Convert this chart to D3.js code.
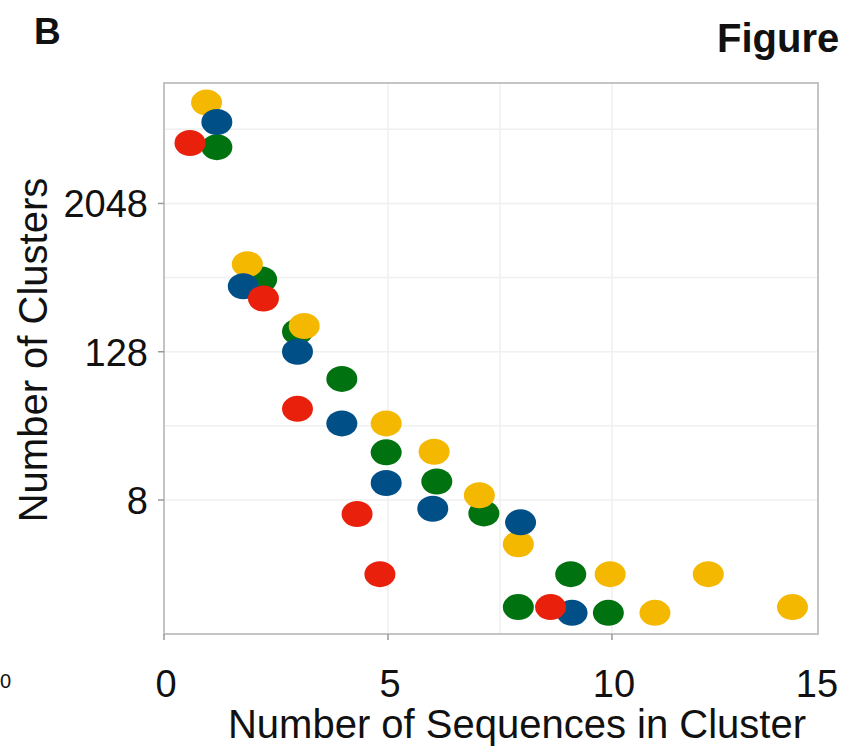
<!DOCTYPE html>
<html>
<head>
<meta charset="utf-8">
<script src="https://cdn.jsdelivr.net/npm/d3@7"></script>
<style>
  html, body { margin: 0; padding: 0; background: #fff; }
  svg { display: block; }
  text { font-family: "Liberation Sans", Arial, Helvetica, sans-serif; fill: #111; }
</style>
</head>
<body>
<svg id="chart" width="842" height="747"></svg>
<script>
// Cluster-size distribution: number of clusters (log2) by sequences per cluster
const xTicks = [0, 5, 10, 15];
const yTicks = [8, 128, 2048];
const yGrid = [8, 32, 128, 512, 2048, 8192];
const xGrid = [5, 7.5, 10];

const yellowX = [0.95, 1.86, 3.13, 4.96, 6.03, 7.04, 7.91, 9.96, 10.96, 12.15, 14.03];
const yellowY = [13500, 658, 207, 33.5, 19.7, 8.75, 3.5, 2, 0.97, 2, 1.08];

const greenX = [1.18, 2.18, 2.98, 3.97, 4.96, 6.09, 7.14, 9.08, 7.91, 9.92];
const greenY = [5870, 494, 186, 77, 19.5, 11.3, 6.23, 2, 1.08, 0.97];

const blueX = [1.18, 1.77, 2.98, 3.97, 4.96, 6.0, 7.96, 9.11];
const blueY = [9400, 436, 128, 33.5, 11, 6.8, 5.27, 0.97];

const redX = [0.58, 2.22, 2.98, 4.31, 4.82, 8.63];
const redY = [6340, 346, 44, 6.16, 2, 1.08];

const series = [
  { name: "green", color: "#00720f", xs: greenX, ys: greenY },
  { name: "yellow", color: "#f5b800", xs: yellowX, ys: yellowY },
  { name: "blue", color: "#004f87", xs: blueX, ys: blueY },
  { name: "red", color: "#e8200c", xs: redX, ys: redY }
];

const plot = { left: 164, right: 818, top: 83, bottom: 634 };

const x = d3.scaleLinear().domain([0, 14.6]).range([plot.left, plot.right]);
const y = d3.scaleLog().base(2).domain([0.653, 19480]).range([plot.bottom, plot.top]);

const svg = d3.select("#chart");

// panel letter and figure heading
svg.append("text").attr("x", 34).attr("y", 44)
  .attr("font-size", 37).attr("font-weight", "bold").text("B");
svg.append("text").attr("x", 717).attr("y", 52)
  .attr("font-size", 40).attr("font-weight", "bold").text("Figure");
// neighbouring panel tick label at the edge
svg.append("text").attr("x", 0).attr("y", 688)
  .attr("font-size", 20).attr("fill", "#333").text("0");

// grid
const grid = svg.append("g");
grid.selectAll("line.h").data(yGrid).join("line")
  .attr("x1", plot.left).attr("x2", plot.right)
  .attr("y1", d => y(d)).attr("y2", d => y(d))
  .attr("stroke", "#f0f0f0").attr("stroke-width", 1.5);
grid.selectAll("line.v").data(xGrid).join("line")
  .attr("y1", plot.top).attr("y2", plot.bottom)
  .attr("x1", d => x(d)).attr("x2", d => x(d))
  .attr("stroke", "#f0f0f0").attr("stroke-width", 1.5);

// frame
svg.append("rect")
  .attr("x", plot.left).attr("y", plot.top)
  .attr("width", plot.right - plot.left).attr("height", plot.bottom - plot.top)
  .attr("fill", "none").attr("stroke", "#c4c4c4").attr("stroke-width", 2);

// y axis ticks and labels
const yAxis = svg.append("g");
yAxis.selectAll("line").data(yTicks).join("line")
  .attr("x1", plot.left - 6).attr("x2", plot.left)
  .attr("y1", d => y(d)).attr("y2", d => y(d))
  .attr("stroke", "#999").attr("stroke-width", 1.5);
yAxis.selectAll("text").data(yTicks).join("text")
  .attr("x", 148).attr("y", d => y(d) + 14)
  .attr("text-anchor", "end").attr("font-size", 38)
  .text(d => d);

// x axis ticks and labels
const xAxis = svg.append("g");
xAxis.selectAll("line").data(xTicks.filter(d => x(d) <= plot.right)).join("line")
  .attr("x1", d => x(d)).attr("x2", d => x(d))
  .attr("y1", plot.bottom).attr("y2", plot.bottom + 6)
  .attr("stroke", "#999").attr("stroke-width", 1.5);
xAxis.selectAll("text").data(xTicks).join("text")
  .attr("x", d => Math.min(x(d) + 2, 817)).attr("y", 697)
  .attr("text-anchor", "middle").attr("font-size", 38)
  .text(d => d);

// axis titles
svg.append("text")
  .attr("x", 517).attr("y", 738)
  .attr("text-anchor", "middle").attr("font-size", 40)
  .text("Number of Sequences in Cluster");
svg.append("text")
  .attr("transform", "translate(47,350) rotate(-90)")
  .attr("text-anchor", "middle").attr("font-size", 40)
  .text("Number of Clusters");

// points
const pts = svg.append("g");
series.forEach(s => {
  pts.append("g").selectAll("ellipse")
    .data(s.xs.map((v, i) => [v, s.ys[i]]))
    .join("ellipse")
    .attr("cx", d => x(d[0])).attr("cy", d => y(d[1]))
    .attr("rx", 15.5).attr("ry", 13)
    .attr("fill", s.color);
});
</script>
</body>
</html>
